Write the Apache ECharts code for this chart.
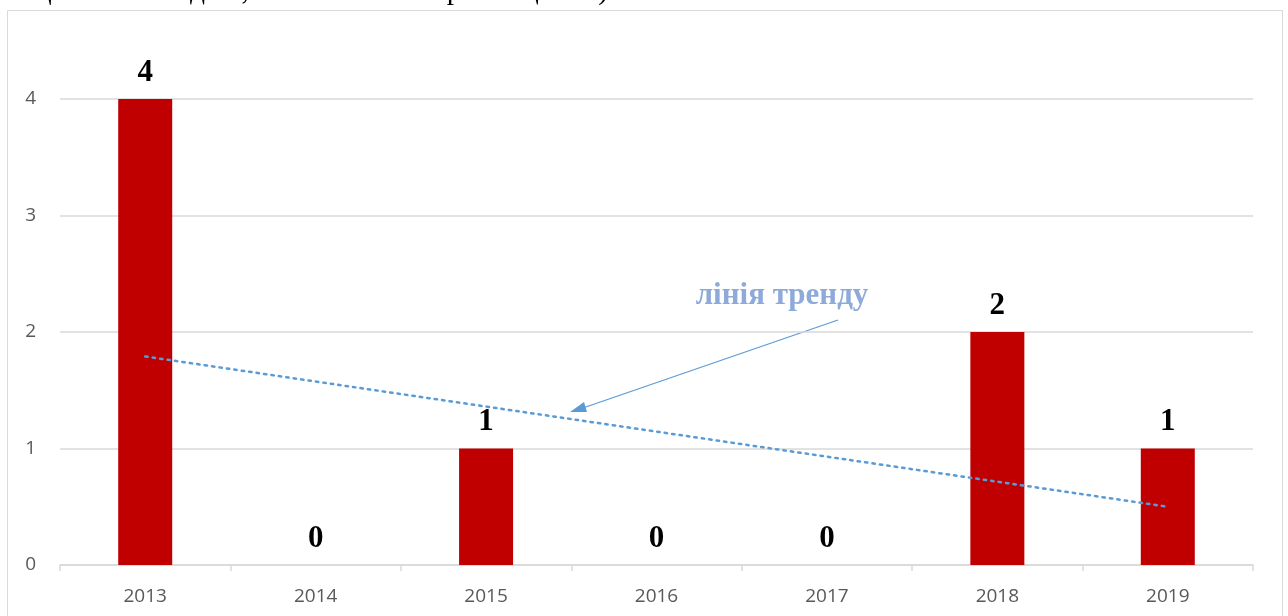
<!DOCTYPE html>
<html><head><meta charset="utf-8">
<script src="https://cdn.jsdelivr.net/npm/echarts@6/dist/echarts.min.js"></script>
<style>html,body{margin:0;padding:0;background:#fff;}#c{width:1288px;height:616px;}</style>
</head><body><div id="c"></div>
<script>
const categories = ['2013','2014','2015','2016','2017','2018','2019'];
const values = [4, 0, 1, 0, 0, 2, 1];
const yTicks = [0, 1, 2, 3, 4];
const trendValues = [1.79, 0.5]; // trend line at first and last category
const titleText = "нещасних випадків, пов'язаних з виробництвом)";
const trendLabel = 'лінія тренду';

const chart = echarts.init(document.getElementById('c'));
chart.setOption({
  animation: false,
  grid: { left: 60, right: 35, top: 99, bottom: 51 },
  graphic: [
    { type: 'rect', shape: { x: 7.5, y: 10.5, width: 1275, height: 620 },
      style: { fill: 'none', stroke: '#d9d9d9', lineWidth: 1 }, z: -1 },
    { type: 'text', left: 0, top: -24,
      style: { text: titleText, font: '29.5px "Liberation Serif"', fill: '#000' } },
    { type: 'text', x: 782, y: 296,
      style: { text: trendLabel, font: 'bold 31px "Liberation Serif"', fill: '#8eaadb', align: 'center', verticalAlign: 'middle' } },
    { type: 'line', shape: { x1: 838, y1: 320, x2: 580, y2: 409 },
      style: { stroke: '#5b9bd5', lineWidth: 1.3 } },
    { type: 'polygon', shape: { points: [[570, 412], [584, 402], [587, 412]] },
      style: { fill: '#5b9bd5' } }
  ],
  xAxis: [{
    type: 'category', data: categories,
    axisLine: { lineStyle: { color: '#d9d9d9', width: 1.5 } },
    axisTick: { show: true, length: 6, lineStyle: { color: '#d9d9d9', width: 1.5 } },
    axisLabel: { color: '#595959', fontSize: 19, margin: 22, fontFamily: 'Open Sans' }
  }, {
    type: 'value', min: 0, max: 7, show: false
  }],
  yAxis: {
    type: 'value', min: yTicks[0], max: yTicks[yTicks.length - 1], interval: 1,
    axisLine: { show: false }, axisTick: { show: false },
    splitLine: { lineStyle: { color: '#d9d9d9', width: 1.5 } },
    axisLabel: { color: '#595959', fontSize: 19, margin: 24, fontFamily: 'Open Sans' }
  },
  series: [{
    type: 'bar', data: values, barWidth: 54,
    itemStyle: { color: '#c00000' },
    label: { show: true, position: 'top', distance: 11, color: '#000',
      fontSize: 31, fontWeight: 'bold', fontFamily: 'Liberation Serif' }
  }, {
    type: 'line', xAxisIndex: 1,
    data: [[0.5, trendValues[0]], [6.5, trendValues[1]]],
    symbol: 'none',
    lineStyle: { color: '#5b9bd5', width: 2.5, type: [2.5, 5], cap: 'round' },
    z: 5
  }]
});
</script></body></html>
